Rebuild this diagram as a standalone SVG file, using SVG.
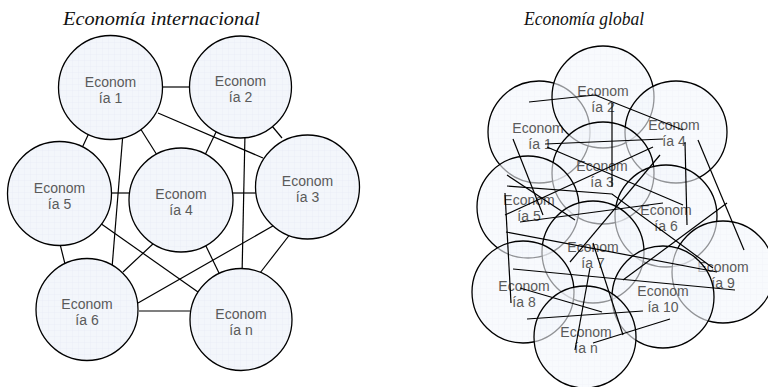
<svg xmlns="http://www.w3.org/2000/svg" width="768" height="387" viewBox="0 0 768 387">
<defs>
<pattern id="grid" width="6" height="6" patternUnits="userSpaceOnUse"><rect width="6" height="6" fill="#f3f6fb"/><path d="M6 0H0V6" fill="none" stroke="#e2e9f2" stroke-width="0.5"/></pattern>
<style>
.n{fill:url(#grid);stroke:#000;stroke-width:1.3}
.g{fill:url(#grid);fill-opacity:0.6;stroke:#000;stroke-width:1.3}
.t{font-family:"Liberation Sans",Arial,sans-serif;font-size:14px;fill:#5a5a5a;text-anchor:middle}
.ttl{font-family:"Liberation Serif","Times New Roman",serif;font-style:italic;font-size:18px;fill:#111}
.c line,.c polyline{stroke:#000;stroke-width:1.2;fill:none}
</style>
</defs>
<rect width="768" height="387" fill="#fff"/>
<text class="ttl" x="63" y="25" textLength="197" lengthAdjust="spacingAndGlyphs">Economía internacional</text>
<text class="ttl" x="524" y="25" textLength="120" lengthAdjust="spacingAndGlyphs">Economía global</text>

<g id="left-connectors" class="c">
<line x1="163" y1="87" x2="189" y2="87"/>
<line x1="158" y1="113" x2="263" y2="158"/>
<line x1="89" y1="133" x2="82" y2="148"/>
<line x1="123" y1="133" x2="112" y2="268"/>
<line x1="140" y1="128" x2="157" y2="155"/>
<line x1="218" y1="128" x2="205" y2="155"/>
<line x1="245" y1="133" x2="242" y2="276"/>
<line x1="272" y1="126" x2="282" y2="138"/>
<line x1="112" y1="193" x2="130" y2="193"/>
<line x1="233" y1="193" x2="256" y2="193"/>
<line x1="59" y1="240" x2="65" y2="264"/>
<line x1="100" y1="223" x2="198" y2="292"/>
<line x1="155" y1="242" x2="123" y2="272"/>
<line x1="204" y1="242" x2="219" y2="273"/>
<line x1="278" y1="223" x2="138" y2="303"/>
<line x1="291" y1="233" x2="260" y2="273"/>
<line x1="139" y1="311" x2="190" y2="311"/>
</g>

<g id="L1"><circle class="n" cx="110.5" cy="87.5" r="52"/><text class="t" x="110.5" y="86.5">Econom</text><text class="t" x="110.5" y="102.5">ía 1</text></g>
<g id="L2"><circle class="n" cx="240.5" cy="87" r="51"/><text class="t" x="240.5" y="86">Econom</text><text class="t" x="240.5" y="102">ía 2</text></g>
<g id="L3"><circle class="n" cx="307.5" cy="187" r="52"/><text class="t" x="307.5" y="186">Econom</text><text class="t" x="307.5" y="202">ía 3</text></g>
<g id="L4"><circle class="n" cx="181" cy="200" r="52"/><text class="t" x="181" y="199">Econom</text><text class="t" x="181" y="215">ía 4</text></g>
<g id="L5"><circle class="n" cx="59.5" cy="193.5" r="52"/><text class="t" x="59.5" y="192.5">Econom</text><text class="t" x="59.5" y="208.5">ía 5</text></g>
<g id="L6"><circle class="n" cx="87" cy="309.5" r="51"/><text class="t" x="87" y="308.5">Econom</text><text class="t" x="87" y="324.5">ía 6</text></g>
<g id="Ln"><circle class="n" cx="241" cy="319.5" r="51"/><text class="t" x="241" y="318.5">Econom</text><text class="t" x="241" y="334.5">ía n</text></g>

<g id="R1"><circle class="g" cx="539" cy="132" r="51"/><text class="t" x="538" y="133">Econom</text><text class="t" x="540" y="149">ía 1</text></g>
<g id="R2"><circle class="g" cx="603" cy="97" r="51"/><text class="t" x="603" y="96">Econom</text><text class="t" x="603" y="112">ía 2</text></g>
<g id="R4"><circle class="g" cx="676" cy="132" r="51"/><text class="t" x="674" y="130">Econom</text><text class="t" x="674" y="146">ía 4</text></g>
<g id="R3"><circle class="g" cx="603" cy="173" r="51"/><text class="t" x="602" y="171">Econom</text><text class="t" x="602" y="187">ía 3</text></g>
<g id="R5"><circle class="g" cx="528" cy="207" r="51"/><text class="t" x="529" y="205">Econom</text><text class="t" x="529" y="221">ía 5</text></g>
<g id="R6"><circle class="g" cx="666" cy="216" r="51"/><text class="t" x="666" y="215">Econom</text><text class="t" x="666" y="231">ía 6</text></g>
<g id="R7"><circle class="g" cx="593" cy="252" r="51"/><text class="t" x="593" y="252">Econom</text><text class="t" x="593" y="268">ía 7</text></g>
<g id="R9"><circle class="g" cx="723" cy="272" r="51"/><text class="t" x="723" y="272">Econom</text><text class="t" x="723" y="288">ía 9</text></g>
<g id="R8"><circle class="g" cx="523" cy="292" r="51"/><text class="t" x="524" y="291">Econom</text><text class="t" x="524" y="307">ía 8</text></g>
<g id="R10"><circle class="g" cx="663" cy="297" r="51"/><text class="t" x="663" y="296">Econom</text><text class="t" x="663" y="312">ía 10</text></g>
<g id="Rn"><circle class="g" cx="585" cy="337" r="51"/><text class="t" x="586" y="337">Econom</text><text class="t" x="586" y="353">ía n</text></g>

<g id="right-connectors" class="c">
<polyline points="529,102 595,95 683,130"/>
<line x1="612" y1="103" x2="612" y2="187"/>
<line x1="545" y1="144" x2="663" y2="139"/>
<line x1="513" y1="139" x2="543" y2="215"/>
<line x1="547" y1="147" x2="683" y2="205"/>
<line x1="507" y1="175" x2="575" y2="220"/>
<polyline points="507,186 612,194 713,268"/>
<line x1="520" y1="222" x2="663" y2="203"/>
<line x1="685" y1="142" x2="687" y2="225"/>
<line x1="698" y1="140" x2="744" y2="250"/>
<line x1="727" y1="203" x2="623" y2="280"/>
<line x1="505" y1="193" x2="511" y2="303"/>
<line x1="505" y1="215" x2="653" y2="147"/>
<line x1="506" y1="232" x2="717" y2="272"/>
<line x1="513" y1="269" x2="735" y2="290"/>
<line x1="520" y1="288" x2="602" y2="312"/>
<line x1="527" y1="319" x2="643" y2="311"/>
<line x1="575" y1="350" x2="590" y2="268"/>
<line x1="593" y1="243" x2="623" y2="335"/>
<line x1="593" y1="343" x2="670" y2="319"/>
<line x1="660" y1="155" x2="570" y2="262"/>
</g>
</svg>
